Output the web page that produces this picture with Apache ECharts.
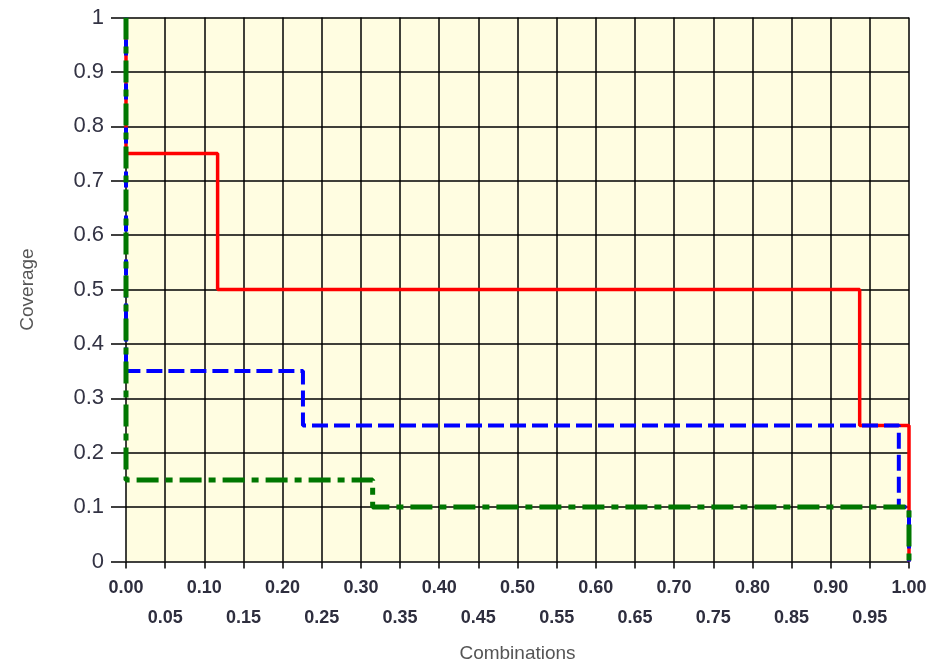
<!DOCTYPE html>
<html><head><meta charset="utf-8">
<script src="https://cdn.jsdelivr.net/npm/echarts@6/dist/echarts.min.js"></script>
<style>html,body{margin:0;padding:0;background:#fff}#c{width:933px;height:664px}</style>
</head><body><div id="c"></div>
<script>
// Step curves (x = combinations, y = coverage)
const redX   = [0, 0, 0.117, 0.937, 1];
const redY   = [1, 0.75, 0.5, 0.25, 0];
const blueX  = [0, 0, 0.226, 0.987, 1];
const blueY  = [1, 0.35, 0.25, 0.1, 0];
const greenX = [0, 0, 0.315, 1];
const greenY = [1, 0.15, 0.1, 0];
const xMin = 0, xMax = 1, xStep = 0.05;
const yMin = 0, yMax = 1, yStep = 0.1;

const pairs = (xs, ys) => xs.map((x, i) => [x, ys[i]]);
const chart = echarts.init(document.getElementById('c'));
chart.setOption({
  animation: false,
  backgroundColor: '#ffffff',
  grid: { left: 126, right: 24, top: 17.5, bottom: 102.5, show: true, backgroundColor: '#fffde1', borderWidth: 0,
          containLabel: false, outerBoundsMode: 'none' },
  xAxis: {
    type: 'value', min: xMin, max: xMax, interval: xStep,
    name: 'Combinations', nameLocation: 'middle', nameGap: 83,
    nameTextStyle: { fontFamily: 'Liberation Sans', fontSize: 19, color: '#555' },
    axisLine: { show: false },
    axisTick: { show: true, length: 7, lineStyle: { color: '#000', width: 1.5 } },
    splitLine: { show: true, lineStyle: { color: '#000', width: 1.5 } },
    axisLabel: {
      margin: 12, fontFamily: 'Liberation Sans', fontSize: 18, fontWeight: 'bold', color: '#2e2e3e',
      lineHeight: 29.5,
      formatter: function (v) {
        const idx = Math.round(v / xStep);
        const t = v.toFixed(2);
        return idx % 2 === 1 ? '\n' + t : t;
      }
    }
  },
  yAxis: {
    type: 'value', min: yMin, max: yMax, interval: yStep,
    name: 'Coverage', nameLocation: 'middle', nameGap: 89, nameRotate: 90,
    nameTextStyle: { fontFamily: 'Liberation Sans', fontSize: 19, color: '#555' },
    axisLine: { show: false },
    axisTick: { show: true, length: 15, lineStyle: { color: '#000', width: 1.5 } },
    splitLine: { show: true, lineStyle: { color: '#000', width: 1.5 } },
    axisLabel: {
      margin: 22, fontFamily: 'Liberation Sans', fontSize: 22, color: '#333344',
      formatter: function (v) { return String(Math.round(v * 10) / 10); }
    }
  },
  series: [
    { type: 'line', step: 'end', data: pairs(redX, redY), symbol: 'none', z: 3,
      lineStyle: { color: '#ff0000', width: 3.5, type: 'solid' } },
    { type: 'line', step: 'end', data: pairs(blueX, blueY), symbol: 'none', z: 4,
      lineStyle: { color: '#0000ff', width: 4, type: [16, 6] } },
    { type: 'line', step: 'end', data: pairs(greenX, greenY), symbol: 'none', z: 5,
      lineStyle: { color: '#007700', width: 5, type: [22, 7, 7, 7] } }
  ]
});
</script></body></html>
